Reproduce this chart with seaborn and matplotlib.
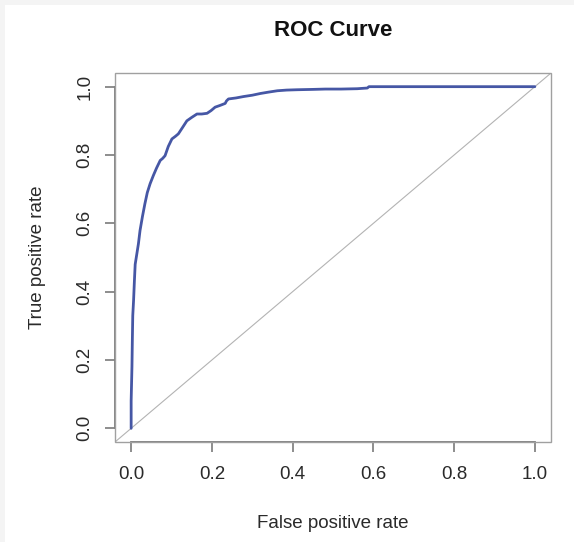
import matplotlib
matplotlib.use("Agg")
import matplotlib.pyplot as plt
from matplotlib.patches import Rectangle
import pandas as pd
import seaborn as sns

# ROC points
fpr = [0.000, 0.000, 0.002, 0.003, 0.004, 0.006, 0.008, 0.010, 0.014, 0.018,
       0.022, 0.028, 0.034, 0.040, 0.047, 0.055, 0.063, 0.072, 0.078, 0.084,
       0.092, 0.101, 0.110, 0.117, 0.127, 0.138, 0.150, 0.163, 0.175, 0.188,
       0.198, 0.208, 0.220, 0.233, 0.236, 0.241, 0.260, 0.278, 0.300, 0.320,
       0.340, 0.362, 0.385, 0.411, 0.450, 0.481, 0.520, 0.560, 0.585, 0.589,
       0.700, 0.850, 1.000]
tpr = [0.000, 0.080, 0.180, 0.260, 0.330, 0.374, 0.430, 0.480, 0.510, 0.540,
       0.579, 0.620, 0.657, 0.690, 0.716, 0.740, 0.762, 0.784, 0.790, 0.798,
       0.825, 0.847, 0.855, 0.862, 0.880, 0.900, 0.910, 0.920, 0.920, 0.922,
       0.930, 0.940, 0.945, 0.951, 0.958, 0.964, 0.967, 0.971, 0.975, 0.980,
       0.984, 0.988, 0.990, 0.991, 0.992, 0.993, 0.993, 0.994, 0.996, 1.000,
       1.000, 1.000, 1.000]
ticks = [0.0, 0.2, 0.4, 0.6, 0.8, 1.0]
tick_labels = ["0.0", "0.2", "0.4", "0.6", "0.8", "1.0"]

df = pd.DataFrame({"fpr": fpr, "tpr": tpr})

sns.set_style("white")
plt.rcParams["font.family"] = ["Liberation Sans", "DejaVu Sans"]

fig = plt.figure(figsize=(5.74, 5.42), dpi=100)
fig.patch.set_facecolor("#f4f4f4")
fig.add_artist(Rectangle((5 / 574, 0), 1, 1 - 5 / 542, transform=fig.transFigure,
                         fc="white", ec="none", zorder=-1))

ax = fig.add_axes([115 / 574, 1 - 442 / 542, 436 / 574, 369 / 542])
ax.set_facecolor("white")

# diagonal reference line
ax.axline((0, 0), slope=1, color="#b3b3b3", linewidth=0.8, zorder=1)

sns.lineplot(data=df, x="fpr", y="tpr", ax=ax, sort=False, estimator=None,
             color="#4657a5", linewidth=2.0, zorder=2)

ax.set_xlim(-0.04, 1.04)
ax.set_ylim(-0.04, 1.04)
ax.set_xticks(ticks)
ax.set_xticklabels(tick_labels)
ax.set_yticks(ticks)
ax.set_yticklabels(tick_labels, rotation=90, va="center")

# R style: thin box plus axis lines only over the tick range
for s in ["top", "right"]:
    ax.spines[s].set_visible(False)
for s in ["left", "bottom"]:
    ax.spines[s].set_bounds(0, 1)
    ax.spines[s].set_color("#7a7a7a")
    ax.spines[s].set_linewidth(1.3)
ax.add_patch(Rectangle((0, 0), 1, 1, transform=ax.transAxes, fill=False,
                       ec="#a0a0a0", lw=1.0, clip_on=False, zorder=3))

ax.tick_params(axis="both", direction="out", length=7.5, width=1.2,
               color="#7a7a7a", labelsize=13.5, labelcolor="#2a2a2a",
               bottom=True, left=True)
ax.tick_params(axis="x", pad=10)
ax.tick_params(axis="y", pad=8)

ax.set_xlabel("False positive rate", fontsize=13.5, color="#2a2a2a", va="center")
ax.xaxis.set_label_coords(0.5, (442 - 523) / 369)
ax.set_ylabel("True positive rate", fontsize=13.5, color="#2a2a2a", va="center")
ax.yaxis.set_label_coords((37 - 115) / 436, 0.5)

fig.text(333 / 574, 1 - 30 / 542, "ROC Curve", fontsize=16, fontweight="bold",
         ha="center", va="center", color="#111111")

plt.grid(False)
fig.savefig("out.png", dpi=100)
plt.close()
